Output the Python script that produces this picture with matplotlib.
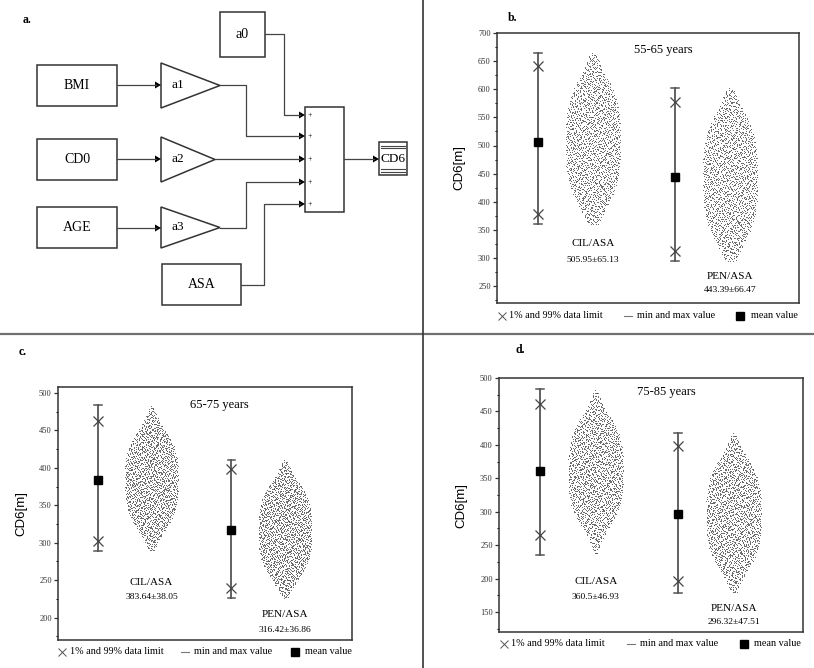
import math
import numpy as np
import matplotlib
matplotlib.use('Agg')
import matplotlib.pyplot as plt
from matplotlib.patches import Rectangle, Polygon

plt.rcParams['font.family'] = ['Liberation Serif', 'DejaVu Serif']

# ---- data ----
groups = ['CIL/ASA', 'PEN/ASA']
ages = ['55-65 years', '65-75 years', '75-85 years']
panel_tags = ['b.', 'c.', 'd.']
means = [[505.95, 443.39], [383.64, 316.42], [360.5, 296.32]]
sds = [[65.13, 66.47], [38.05, 36.86], [46.93, 47.51]]
mins = [[360, 295], [289, 226], [235, 179]]
maxs = [[665, 602], [484, 411], [483, 418]]
p01 = [[378, 312], [302, 240], [265, 196]]
p99 = [[642, 577], [463, 398], [461, 398]]
ylims = [(220, 700), (170, 508), (120, 500)]
n_points = 2000

# ---- layout (pixels) ----
W, H = 814, 668
axes_px = [(497, 33, 799, 303), (58, 387, 352, 640), (499, 378, 803, 632)]
tag_px = [(513, 18), (23, 352), (520, 350)]
text_y = [(0.222, 0.159, 0.10, 0.048), (0.229, 0.170, 0.099, 0.040),
          (0.197, 0.138, 0.094, 0.039)]
title_y = [0.937, 0.929, 0.945]
bar_x = [0.136, 0.59]
cloud_dx = 0.182
cloud_hw = 0.09
line_c = '#555555'


def halton(n, base):
    out = np.zeros(n)
    for i in range(n):
        f, r, k = 1.0, 0.0, i + 7
        while k > 0:
            f /= base
            r += f * (k % base)
            k //= base
        out[i] = r
    return out


def width(y, mean, sd):
    return np.exp(-0.094 * np.abs((y - mean) / sd) ** 3.5)


def cloud(mean, sd, lo, hi, n):
    # deterministic fill of the lens shaped swarm between min and max
    yg = np.linspace(lo, hi, 2001)
    cdf = np.cumsum(width(yg, mean, sd))
    cdf = (cdf - cdf[0]) / (cdf[-1] - cdf[0])
    ys = np.interp(halton(n, 2), cdf, yg)
    ys = ys + (halton(n, 5) - 0.5) * (hi - lo) / n * 40
    xs = (2 * halton(n, 3) - 1) * width(ys, mean, sd)
    return xs, ys


fig = plt.figure(figsize=(W / 100, H / 100), dpi=100)

# ---- overlay: separators and block diagram (panel a) ----
ov = fig.add_axes([0, 0, 1, 1])
ov.set_xlim(0, W)
ov.set_ylim(H, 0)
ov.axis('off')
ov.plot([0, W], [334, 334], color='#707070', lw=1.6)
ov.plot([423, 423], [0, H], color='#333333', lw=1.2)
ov.text(27, 20, 'a.', fontsize=8.5, fontweight='bold', ha='center', va='center')

blocks = {'a0': (220, 12, 265, 57), 'BMI': (37, 65, 117, 106),
          'CD0': (37, 139, 117, 180), 'AGE': (37, 207, 117, 248),
          'ASA': (162, 264, 241, 305)}
for name, (x0, y0, x1, y1) in blocks.items():
    ov.add_patch(Rectangle((x0, y0), x1 - x0, y1 - y0, fill=False,
                           ec='#333333', lw=1.1))
    ov.text((x0 + x1) / 2, (y0 + y1) / 2, name, fontsize=10,
            ha='center', va='center')

gains = {'a1': (63, 108, 220), 'a2': (137, 182, 215), 'a3': (207, 248, 220)}
for name, (y0, y1, tip) in gains.items():
    ym = (y0 + y1) / 2
    ov.add_patch(Polygon([(161, y0), (161, y1), (tip, ym)], closed=True,
                         fill=False, ec='#333333', lw=1.1))
    ov.text(172, ym, name, fontsize=9.5, ha='left', va='center')

# sum block and output
ov.add_patch(Rectangle((305, 107), 39, 105, fill=False, ec='#333333', lw=1.1))
ov.add_patch(Rectangle((379, 142), 28, 33, fill=False, ec='#333333', lw=1.1))
for yy in (145.5, 148, 169, 171.5):
    ov.plot([381, 405], [yy, yy], color='#444444', lw=0.8)
ov.text(393, 159, 'CD6', fontsize=9.5, ha='center', va='center')

wires = [
    [(265, 34), (284, 34), (284, 115), (300, 115)],
    [(220, 85), (246, 85), (246, 136), (300, 136)],
    [(215, 159), (300, 159)],
    [(220, 228), (246, 228), (246, 182), (300, 182)],
    [(241, 285), (264, 285), (264, 204), (300, 204)],
    [(117, 85), (156, 85)],
    [(117, 159), (156, 159)],
    [(117, 228), (156, 228)],
    [(344, 159), (374, 159)],
]
for w in wires:
    xs, ys = zip(*w)
    ov.plot(xs, ys, color='#444444', lw=0.9)
    ex, ey = w[-1]
    ov.add_patch(Polygon([(ex - 1, ey - 3.5), (ex - 1, ey + 3.5), (ex + 5, ey)],
                         closed=True, color='black', lw=0))
for yy in (115, 136, 159, 182, 204):
    ov.text(310, yy, '+', fontsize=5.5, ha='center', va='center')

# ---- panels b, c, d ----
for k in range(3):
    x0, y0, x1, y1 = axes_px[k]
    ax = fig.add_axes([x0 / W, 1 - y1 / H, (x1 - x0) / W, (y1 - y0) / H])
    ax.set_xlim(0, 1)
    ax.set_ylim(*ylims[k])
    for g in range(2):
        bx = bar_x[g]
        ax.plot([bx, bx], [mins[k][g], maxs[k][g]], color=line_c, lw=1.3)
        for v in (mins[k][g], maxs[k][g]):
            ax.plot([bx - 0.013, bx + 0.013], [v, v], color=line_c, lw=1.1)
        ax.plot([bx, bx], [p01[k][g], p99[k][g]], ls='none', marker='x',
                ms=7, mew=0.9, color='#444444')
        ax.plot([bx], [means[k][g]], ls='none', marker='s', ms=5.5, color='black')
        cx, cy = cloud(means[k][g], sds[k][g], mins[k][g], maxs[k][g], n_points)
        ax.scatter(bx + cloud_dx + cx * cloud_hw, cy, s=0.4, color='#555555',
                   linewidths=0)
        tx = bx + cloud_dx
        ax.text(tx, text_y[k][2 * g], groups[g], transform=ax.transAxes,
                fontsize=8, ha='center', va='center')
        ax.text(tx, text_y[k][2 * g + 1],
                '%s\u00b1%s' % (('%g' % means[k][g]), ('%g' % sds[k][g])),
                transform=ax.transAxes, fontsize=6.8, ha='center', va='center')
    ax.text(0.55, title_y[k], ages[k], transform=ax.transAxes, fontsize=9,
            ha='center', va='center')

    ax.set_yticks(np.arange(math.ceil(ylims[k][0] / 50) * 50, ylims[k][1] + 1, 50))
    ax.set_yticks(np.arange(math.ceil(ylims[k][0] / 25) * 25, ylims[k][1] + 1, 25),
                  minor=True)
    ax.set_xticks([])
    ax.tick_params(axis='y', which='major', direction='out', length=3,
                   width=0.9, labelsize=6, pad=1.5, colors='#333333')
    ax.tick_params(axis='y', which='minor', direction='out', length=1.8,
                   width=0.8)
    for sp in ax.spines.values():
        sp.set_color('#333333')
        sp.set_linewidth(1.1)
    ax.set_ylabel('CD6[m]', family=['Liberation Sans', 'DejaVu Sans'],
                  fontsize=9.5)
    ax.yaxis.set_label_coords(-0.105, 0.5)

    # hand-placed legend under the axes
    ly = -0.047
    ax.plot([0.015], [ly], transform=ax.transAxes, clip_on=False, marker='x',
            ms=6, mew=0.7, color='#555555')
    ax.text(0.04, ly, '1% and 99% data limit', transform=ax.transAxes,
            fontsize=7.3, ha='left', va='center')
    ax.plot([0.42, 0.447], [ly, ly], transform=ax.transAxes, clip_on=False,
            color='#777777', lw=0.8)
    ax.text(0.464, ly, 'min and max value', transform=ax.transAxes,
            fontsize=7.3, ha='left', va='center')
    ax.plot([0.805], [ly], transform=ax.transAxes, clip_on=False, marker='s',
            ms=5.5, color='black')
    ax.text(0.84, ly, 'mean value', transform=ax.transAxes,
            fontsize=7.3, ha='left', va='center')

    ov.text(*tag_px[k], panel_tags[k], fontsize=8.5, fontweight='bold',
            ha='center', va='center')

fig.savefig('out.png', dpi=100)
